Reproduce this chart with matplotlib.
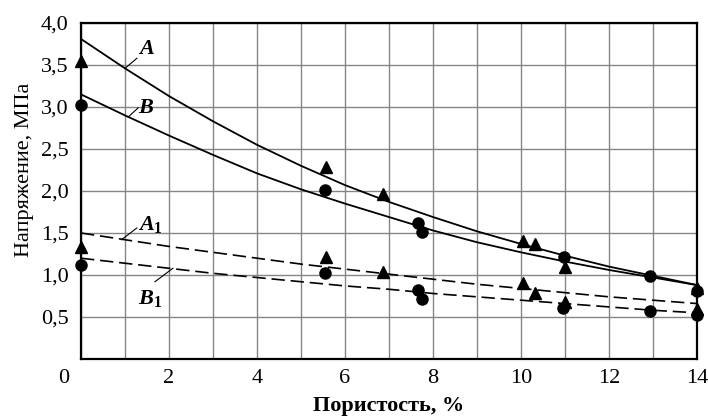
import matplotlib
matplotlib.use("Agg")
import matplotlib.pyplot as plt
from matplotlib.transforms import ScaledTranslation

# Fitted curves at integer porosity values
curve_x = [0, 1, 2, 3, 4, 5, 6, 7, 8, 9, 10, 11, 12, 13, 14]
curve_A = [3.81, 3.46, 3.13, 2.83, 2.55, 2.30, 2.07, 1.87, 1.69, 1.52, 1.37, 1.23, 1.10, 0.99, 0.88]
curve_B = [3.15, 2.90, 2.66, 2.43, 2.21, 2.02, 1.85, 1.69, 1.53, 1.39, 1.27, 1.16, 1.06, 0.97, 0.88]
curve_A1 = [1.50, 1.42, 1.34, 1.27, 1.20, 1.13, 1.07, 1.01, 0.95, 0.89, 0.84, 0.79, 0.74, 0.70, 0.66]
curve_B1 = [1.20, 1.14, 1.08, 1.02, 0.97, 0.92, 0.87, 0.83, 0.78, 0.74, 0.70, 0.66, 0.62, 0.58, 0.55]

# Measured points
tri_x = [0, 5.57, 6.87, 10.05, 10.32, 11.0, 14.0]
tri_y = [3.55, 2.29, 1.96, 1.40, 1.37, 1.10, 0.85]
circ_x = [0, 5.55, 7.67, 7.76, 10.98, 12.94, 14.0]
circ_y = [3.02, 2.01, 1.62, 1.51, 1.21, 0.99, 0.81]
tri1_x = [0, 5.57, 6.87, 10.05, 10.32, 11.0, 14.0]
tri1_y = [1.33, 1.22, 1.04, 0.90, 0.79, 0.68, 0.60]
circ1_x = [0, 5.55, 7.67, 7.76, 10.96, 12.94, 14.0]
circ1_y = [1.12, 1.02, 0.82, 0.71, 0.61, 0.57, 0.52]

x_ticks = [0, 2, 4, 6, 8, 10, 12, 14]
y_ticks = [0.5, 1.0, 1.5, 2.0, 2.5, 3.0, 3.5, 4.0]
y_tick_labels = ["0,5", "1,0", "1,5", "2,0", "2,5", "3,0", "3,5", "4,0"]
curve_names = [r'$A$', r'$B$', r'$A_1$', r'$B_1$']

plt.rcParams['font.family'] = ['Liberation Serif', 'DejaVu Serif']
plt.rcParams['mathtext.fontset'] = 'custom'
plt.rcParams['mathtext.it'] = 'Liberation Serif:italic:bold'
plt.rcParams['mathtext.rm'] = 'Liberation Serif:bold'
plt.rcParams['mathtext.default'] = 'it'

fig = plt.figure(figsize=(7.08, 4.18), dpi=100)
ax = fig.add_axes([81/708, 1-359/418, 616/708, 336/418])

ax.set_xlim(0, 14)
ax.set_ylim(0, 4.0)
ax.set_xticks(range(0, 15), minor=True)
ax.set_xticks(x_ticks)
ax.set_xticklabels([str(t) for t in x_ticks])
ax.set_yticks(y_ticks)
ax.set_yticklabels(y_tick_labels)
ax.grid(True, which='both', color='#858585', lw=1.0)
ax.set_axisbelow(True)
ax.tick_params(which='both', length=0)
ax.tick_params(axis='x', pad=7, labelsize=16)
ax.tick_params(axis='y', pad=9, labelsize=16)
# shift the "0" label to the left, as in the reference
off = ScaledTranslation(-17/100, 0, fig.dpi_scale_trans)
lab0 = ax.get_xticklabels()[0]
lab0.set_transform(lab0.get_transform() + off)

for s in ax.spines.values():
    s.set_linewidth(1.6)
    s.set_color('black')

ax.plot(curve_x, curve_A, color='black', lw=1.3, zorder=3)
ax.plot(curve_x, curve_B, color='black', lw=1.3, zorder=3)
ax.plot(curve_x, curve_A1, color='black', lw=1.2, ls=(0, (8, 3.5)), zorder=3)
ax.plot(curve_x, curve_B1, color='black', lw=1.2, ls=(0, (8, 3.5)), zorder=3)

ax.plot(tri_x, tri_y, '^', color='black', ms=8.5, ls='none', clip_on=False, zorder=4)
ax.plot(circ_x, circ_y, 'o', color='black', ms=8, ls='none', clip_on=False, zorder=4)
ax.plot(tri1_x, tri1_y, '^', color='black', ms=8.5, ls='none', clip_on=False, zorder=4)
ax.plot(circ1_x, circ1_y, 'o', color='black', ms=8, ls='none', clip_on=False, zorder=4)

# curve labels with leader lines
label_pos = [(1.30, 3.71), (1.30, 3.01), (1.30, 1.63), (1.30, 0.75)]
leaders = [((1.0, 1.27), (3.46, 3.58)),
           ((1.07, 1.30), (2.88, 2.99)),
           ((0.92, 1.27), (1.42, 1.56)),
           ((1.68, 2.09), (0.92, 1.08))]
for name, (tx, ty), (lx, ly) in zip(curve_names, label_pos, leaders):
    ax.plot(lx, ly, color='black', lw=0.8, zorder=3)
    ax.text(tx, ty, name, fontsize=16, ha='left', va='center_baseline', zorder=5)

ax.set_xlabel('Пористость, %', fontsize=16, fontweight='bold')
ax.xaxis.set_label_coords(0.5, -0.11)
ax.set_ylabel('Напряжение, МПа', fontsize=16)
ax.yaxis.set_label_coords(-0.076, 0.5625)

fig.savefig('out.png', dpi=100)
